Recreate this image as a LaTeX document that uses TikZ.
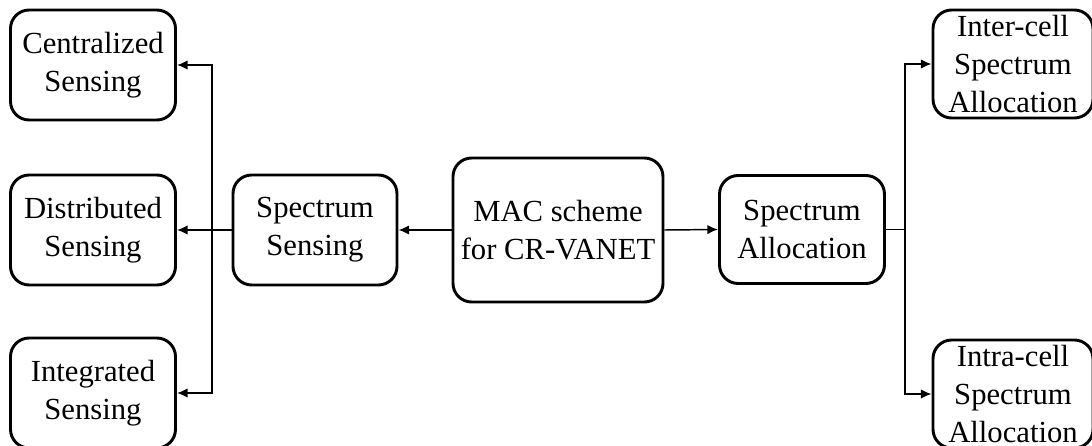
\documentclass[tikz,border=0pt]{standalone}
\usepackage{fontspec}
\setmainfont{Liberation Serif}
\usetikzlibrary{arrows.meta}
\begin{document}
\begin{tikzpicture}[x=0.75pt,y=-0.75pt,
  box/.style={draw,line width=2.2pt,rounded corners=14pt,inner sep=0pt,align=center,
    font=\fontsize{23}{28.5}\selectfont},
  conn/.style={line width=1.1pt},
  arr/.style={conn,-{Latex[length=8pt,width=7pt]}}]
\useasboundingbox (0,0) rectangle (1092,446);
\clip (0,0) rectangle (1092,446);
\node[box,minimum width=123.75pt,minimum height=82.5pt] (cent) at (93,65) {Centralized\\Sensing};
\node[box,minimum width=123.75pt,minimum height=82.5pt] (dist) at (93,230) {Distributed\\Sensing};
\node[box,minimum width=123.75pt,minimum height=82.5pt] (integ) at (93,393) {Integrated\\Sensing};
\node[box,minimum width=123pt,minimum height=82.5pt] (ss) at (315,230) {Spectrum\\Sensing};
\node[box,minimum width=157.5pt,minimum height=108pt] (mac) at (558,230) {MAC scheme\\for CR-VANET};
\node[box,minimum width=123.75pt,minimum height=81pt] (sa) at (802,229.5) {Spectrum\\Allocation};
\node[box,minimum width=120pt,minimum height=81pt] (inter) at (1013,64) {Inter-cell\\Spectrum\\Allocation};
\node[box,minimum width=120pt,minimum height=81pt] (intra) at (1013,394) {Intra-cell\\Spectrum\\Allocation};
\coordinate (jl) at (212,230);
\coordinate (jr) at (905,229.5);
\draw[arr] (mac.west) -- (ss.east);
\draw[arr] (mac.east) -- (sa.west);
\draw[arr] (ss.west) -- (dist.east);
\draw[arr] (jl) |- (cent.east);
\draw[arr] (jl) |- (integ.east);
\draw[conn] (sa.east) -- (jr);
\draw[arr] (jr) |- (inter.west);
\draw[arr] (jr) |- (intra.west);
\end{tikzpicture}
\end{document}
